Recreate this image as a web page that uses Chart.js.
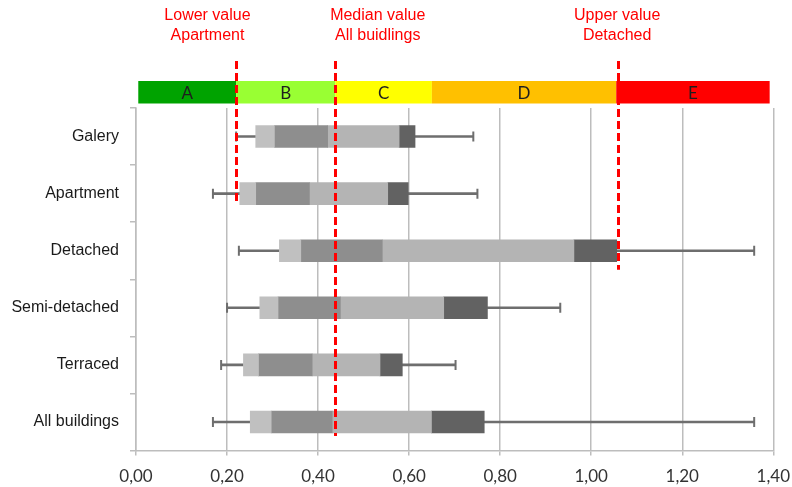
<!DOCTYPE html>
<html>
<head>
<meta charset="utf-8">
<script src="https://cdn.jsdelivr.net/npm/chart.js@4.4.0/dist/chart.umd.min.js"></script>
<style>
  html, body { margin: 0; padding: 0; background: #ffffff; }
  #wrap { width: 792px; height: 487px; position: relative; }
</style>
</head>
<body>
<div id="wrap"><canvas id="c" width="792" height="487"></canvas></div>
<script>
// ---- data ----
const categories = ['Galery', 'Apartment', 'Detached', 'Semi-detached', 'Terraced', 'All buildings'];
const minValues  = [0.220, 0.169, 0.226, 0.200, 0.187, 0.169];
const p1Values   = [0.263, 0.228, 0.315, 0.272, 0.236, 0.251];
const p2Values   = [0.304, 0.263, 0.362, 0.312, 0.269, 0.297];
const p3Values   = [0.421, 0.381, 0.541, 0.449, 0.387, 0.431];
const p4Values   = [0.578, 0.553, 0.962, 0.676, 0.536, 0.649];
const p5Values   = [0.613, 0.598, 1.056, 0.772, 0.585, 0.765];
const maxValues  = [0.741, 0.750, 1.358, 0.932, 0.702, 1.358];

const xTickLabels = ['0,00', '0,20', '0,40', '0,60', '0,80', '1,00', '1,20', '1,40'];

const classLabels = ['A', 'B', 'C', 'D', 'E'];
const classBounds = [0.005, 0.22, 0.438, 0.65, 1.055, 1.392];
const classColors = ['#00a300', '#99ff33', '#ffff00', '#ffc000', '#ff0000'];

const refLineValues   = [0.22, 0.438, 1.059];
const refLineEndCats  = [1, 5, 2];
const refLineTitles   = [['Lower value', 'Apartment'], ['Median value', 'All buidlings'], ['Upper value', 'Detached']];
const refTitleAnchors = [0.157, 0.531, 1.057];

// ---- build datasets ----
const seg = (a, b) => categories.map((c, i) => [a[i], b[i]]);
const barCommon = { grouped: false, barThickness: 22, borderWidth: 0, borderSkipped: false };

const datasets = [
  Object.assign({ label: 's1', data: seg(p1Values, p2Values), backgroundColor: '#c0c0c0' }, barCommon),
  Object.assign({ label: 's2', data: seg(p2Values, p3Values), backgroundColor: '#8e8e8e' }, barCommon),
  Object.assign({ label: 's3', data: seg(p3Values, p4Values), backgroundColor: '#b4b4b4' }, barCommon),
  Object.assign({ label: 's4', data: seg(p4Values, p5Values), backgroundColor: '#626262' }, barCommon),
  { label: 'wl', data: seg(minValues, p1Values), backgroundColor: '#6e6e6e', grouped: false, barThickness: 2, borderWidth: 0 },
  { label: 'wr', data: seg(p5Values, maxValues), backgroundColor: '#6e6e6e', grouped: false, barThickness: 2, borderWidth: 0 },
  {
    type: 'scatter', label: 'caps',
    data: categories.flatMap((c, i) => [{ x: minValues[i], y: c }, { x: maxValues[i], y: c }]),
    pointStyle: 'line', rotation: 90, radius: 5, hoverRadius: 5,
    borderColor: '#6e6e6e', backgroundColor: '#6e6e6e', borderWidth: 2, showLine: false
  }
];

// ---- plugin: class band, reference lines, titles ----
const decorPlugin = {
  id: 'decor',
  afterDatasetsDraw(chart) {
    const ctx = chart.ctx;
    const xs = chart.scales.x, ys = chart.scales.y;
    ctx.save();
    // class band
    const bandTop = 81, bandBottom = 103.5;
    for (let i = 0; i < classLabels.length; i++) {
      const x0 = xs.getPixelForValue(classBounds[i]);
      const x1 = xs.getPixelForValue(classBounds[i + 1]);
      ctx.fillStyle = classColors[i];
      ctx.fillRect(x0, bandTop, x1 - x0, bandBottom - bandTop);
      ctx.fillStyle = '#1e1e1e';
      ctx.font = '17px Lato';
      ctx.textAlign = 'center';
      ctx.textBaseline = 'middle';
      ctx.fillText(classLabels[i], (x0 + x1) / 2, (bandTop + bandBottom) / 2 + 1);
    }
    // reference lines
    ctx.strokeStyle = '#ff0000';
    ctx.lineWidth = 3;
    ctx.setLineDash([8, 4]);
    const ends = [11, 14, 19];
    for (let i = 0; i < refLineValues.length; i++) {
      const x = Math.round(xs.getPixelForValue(refLineValues[i])) + 0.5;
      const yEnd = ys.getPixelForValue(refLineEndCats[i]) + ends[i];
      ctx.beginPath();
      ctx.moveTo(x, 61);
      ctx.lineTo(x, yEnd);
      ctx.stroke();
    }
    ctx.setLineDash([]);
    // titles
    ctx.fillStyle = '#ff0000';
    ctx.font = '16px "Liberation Sans"';
    ctx.textAlign = 'center';
    ctx.textBaseline = 'middle';
    for (let i = 0; i < refLineTitles.length; i++) {
      const x = xs.getPixelForValue(refTitleAnchors[i]);
      ctx.fillText(refLineTitles[i][0], x, 16);
      ctx.fillText(refLineTitles[i][1], x, 36);
    }
    ctx.restore();
  }
};

Chart.defaults.font.family = 'Lato';
Chart.defaults.font.size = 16;
Chart.defaults.color = '#262626';

new Chart(document.getElementById('c'), {
  type: 'bar',
  data: { labels: categories, datasets },
  options: {
    indexAxis: 'y',
    responsive: false,
    animation: false,
    layout: { padding: { top: 108, right: 18.7, left: 0, bottom: 0 } },
    plugins: { legend: { display: false }, tooltip: { enabled: false } },
    scales: {
      x: {
        type: 'linear', min: 0, max: 1.4,
        ticks: {
          stepSize: 0.2, padding: 11,
          font: { size: 17, family: 'Lato' },
          color: '#333333',
          callback: (v, i) => xTickLabels[i]
        },
        grid: { color: '#bdbdbd', lineWidth: 1.5, tickLength: 5 },
        border: { color: '#bdbdbd', width: 1.5 },
        afterFit: s => { s.height = 36.5; s.paddingLeft = 0; s.paddingRight = 0; }
      },
      y: {
        type: 'category',
        ticks: { padding: 11, font: { size: 16, family: '"Liberation Sans"' }, color: '#1a1a1a' },
        grid: { drawOnChartArea: false, color: '#bdbdbd', lineWidth: 1.5, tickLength: 6, offset: true },
        border: { color: '#bdbdbd', width: 1.5 },
        afterFit: s => { s.width = 136; s.paddingTop = 0; s.paddingBottom = 0; }
      }
    }
  },
  plugins: [decorPlugin]
});
</script>
</body>
</html>
